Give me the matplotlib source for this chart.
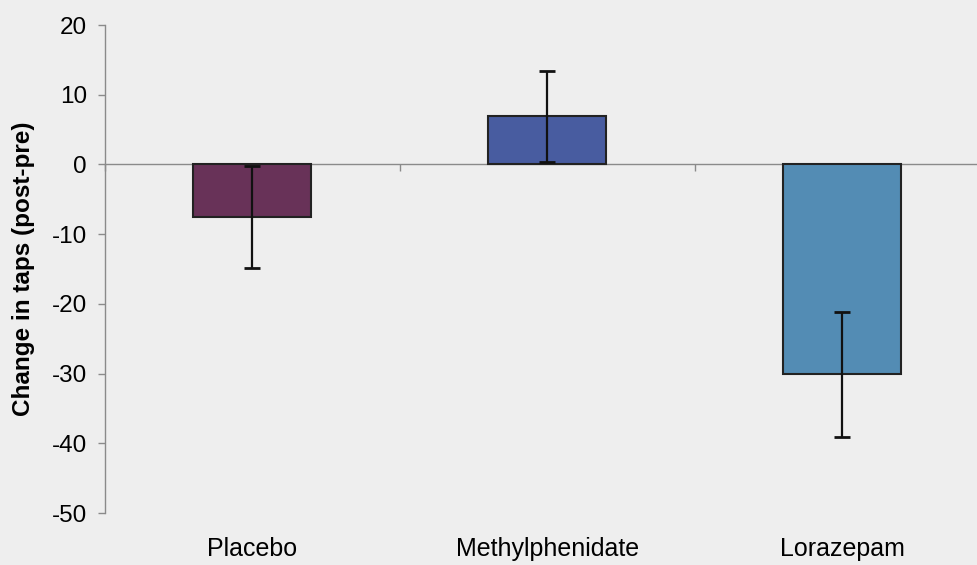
import numpy as np
import matplotlib
matplotlib.use("Agg")
import matplotlib.pyplot as plt
import matplotlib.transforms as mtransforms

# mean change in taps (post - pre) and error per drug condition
conditions = ["Placebo", "Methylphenidate", "Lorazepam"]
mean_change = [-7.5, 6.9, -30.1]
err_change = [7.3, 6.5, 9.0]
bar_colors = ["#683258", "#485CA0", "#538CB4"]

bg = "#EEEEEE"
plt.rcParams['font.family'] = ['Liberation Sans', 'DejaVu Sans']
plt.rcParams['axes.unicode_minus'] = False

fig = plt.figure(figsize=(9.78, 5.65), dpi=100, facecolor=bg)
ax = fig.add_axes([105 / 978, 52 / 565, 885 / 978, 488 / 565])
ax.set_facecolor(bg)

x = np.arange(len(conditions))
ax.bar(x, mean_change, width=0.4, color=bar_colors, edgecolor="#222222",
       linewidth=1.5, zorder=2)
ax.errorbar(x, mean_change, yerr=err_change, fmt="none", ecolor="#111111",
            elinewidth=1.6, capsize=5.5, capthick=2, zorder=3)

ax.set_xlim(-0.5, len(conditions) - 0.5)
ax.set_ylim(-50, 20)
ax.set_yticks(np.arange(-50, 21, 10))

# category axis sits on the zero line, tick marks between categories
for s in ["top", "right"]:
    ax.spines[s].set_visible(False)
ax.spines['bottom'].set_position(('data', 0))
ax.spines['bottom'].set_color("#8a8a8a")
ax.spines['bottom'].set_linewidth(1.0)
ax.spines['bottom'].set_zorder(1)
ax.spines['left'].set_color("#8a8a8a")
ax.spines['left'].set_linewidth(1.0)
ax.set_xticks(np.arange(len(conditions) + 1) - 0.5)
ax.set_xticklabels([])
ax.tick_params(axis='x', direction='out', length=5, width=1, color="#8a8a8a")
ax.tick_params(axis='y', direction='out', length=5, width=1, color="#8a8a8a",
               labelsize=17.5, pad=8)

trans = mtransforms.blended_transform_factory(ax.transData, ax.transAxes)
for xi, name in zip(x, conditions):
    ax.text(xi, -0.05, name, transform=trans, ha='center', va='top',
            fontsize=18)

ax.set_ylabel("Change in taps (post-pre)", fontsize=17.5, fontweight='bold',
              labelpad=12)

fig.savefig("out.png", dpi=100, facecolor=bg)
